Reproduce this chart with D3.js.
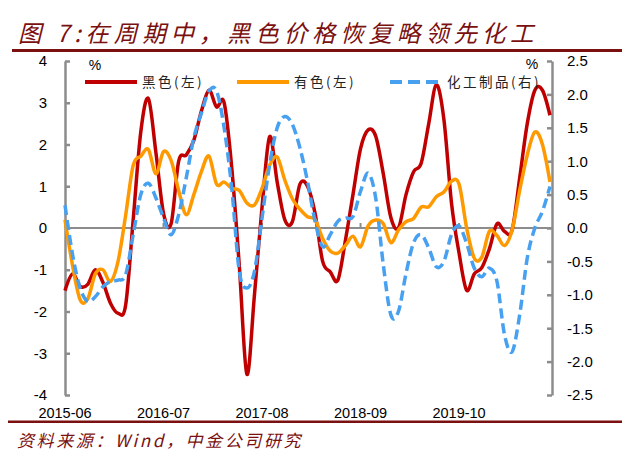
<!DOCTYPE html>
<html><head><meta charset="utf-8">
<script src="https://cdn.jsdelivr.net/npm/d3@7/dist/d3.min.js"></script>
<style>
html,body{margin:0;padding:0;background:#fff;}
svg{display:block;}
</style></head>
<body>
<svg id="c" width="636" height="456"></svg>
<script>
// ---------- data ----------
const startMonth = "2015-06";
const tickLabels = ["2015-06","2016-07","2017-08","2018-09","2019-10"];
const seriesNames = ["黑色(左)","有色(左)","化工制品(右)"];
const black = [-1.5,-1.1,-1.4,-1.35,-1.0,-1.3,-1.8,-2.04,-1.85,0.2,2.3,3.1,1.8,0.35,0.1,1.6,1.75,2.1,2.8,3.3,2.9,3.0,1.45,-0.9,-3.5,-1.6,0.5,2.19,1.1,0.2,0.15,1.05,1.0,0.35,-0.8,-1.05,-1.25,-0.3,0.8,1.9,2.35,2.2,1.3,0.25,0.0,0.8,1.35,1.55,2.5,3.43,2.6,0.6,-0.6,-1.49,-1.1,-0.95,-0.5,0.1,-0.08,-0.05,1.2,2.5,3.3,3.3,2.7];
const nonferrous = [0.2,-0.9,-1.72,-1.7,-1.1,-1.0,-1.28,-0.8,0.3,1.5,1.72,1.88,1.3,1.83,1.62,0.9,0.32,0.8,1.35,1.72,1.05,1.1,0.95,0.9,0.6,0.55,0.95,1.5,1.7,1.15,0.7,0.45,0.27,0.2,-0.25,-0.55,-0.6,-0.42,-0.2,-0.45,0.05,0.19,0.1,-0.35,-0.05,0.15,0.23,0.5,0.51,0.75,0.86,1.12,1.05,0.0,-0.72,-0.7,-0.08,-0.18,-0.42,-0.05,0.9,1.75,2.3,2.0,1.1];
const chemicals = [0.34,-0.4,-0.9,-1.1,-1.03,-0.88,-0.8,-0.78,-0.7,-0.1,0.5,0.67,0.45,0.15,-0.1,0.2,0.75,1.35,1.72,2.05,2.05,1.5,0.6,-0.65,-0.9,-0.65,0.15,0.95,1.5,1.67,1.55,1.2,0.7,0.1,-0.28,-0.1,0.1,0.15,0.17,0.55,0.82,0.45,-0.55,-1.3,-1.25,-0.68,-0.22,-0.1,-0.3,-0.58,-0.5,-0.1,0.03,-0.23,-0.6,-0.73,-0.6,-0.8,-1.6,-1.85,-1.3,-0.45,0.0,0.25,0.62];
const leftTicks = [4,3,2,1,0,-1,-2,-3,-4];
const rightTicks = [2.5,2.0,1.5,1.0,0.5,0.0,-0.5,-1.0,-1.5,-2.0,-2.5];

// categories (months)
const months = d3.timeMonth.range(new Date(2015,5,1), new Date(2015,5+black.length,1)).map(d3.timeFormat("%Y-%m"));

// ---------- layout ----------
const svg = d3.select("#c");
const X0 = 65, X1 = 550, AX_R = 552, Y_TOP = 61, Y_BOT = 395;
const x = d3.scalePoint().domain(months).range([X0, X1]);
const yL = d3.scaleLinear().domain([-4,4]).range([Y_BOT, Y_TOP]);
const yR = d3.scaleLinear().domain([-2.5,2.5]).range([Y_BOT, Y_TOP]);
const darkRed = "#7a1010";
const axisGray = "#8c8c8c";

// title
svg.append("text").attr("x",18).attr("y",42)
  .attr("font-family","'Noto Sans CJK SC', sans-serif").attr("font-style","italic")
  .attr("font-size",23.5).attr("letter-spacing",4.8).attr("fill",darkRed)
  .text("图 7:在周期中，黑色价格恢复略领先化工");
svg.append("rect").attr("x",12).attr("y",49).attr("width",610).attr("height",3).attr("fill",darkRed);
svg.append("rect").attr("x",8).attr("y",420.5).attr("width",614).attr("height",2.5).attr("fill",darkRed);
svg.append("text").attr("x",17).attr("y",447)
  .attr("font-family","'Noto Sans CJK SC', sans-serif").attr("font-style","italic")
  .attr("font-size",17).attr("letter-spacing",2.6).attr("fill",darkRed)
  .text("资料来源：Wind，中金公司研究");

// zero line
svg.append("line").attr("x1",X0).attr("x2",AX_R).attr("y1",yL(0)).attr("y2",yL(0))
  .attr("stroke",axisGray).attr("stroke-width",2);

// x tick marks on zero line & labels
const xtickG = svg.append("g");
tickLabels.forEach(t=>{
  xtickG.append("line").attr("x1",x(t)).attr("x2",x(t)).attr("y1",yL(0)).attr("y2",yL(0)-5)
    .attr("stroke",axisGray).attr("stroke-width",2);
  xtickG.append("text").attr("x",x(t)).attr("y",418).attr("text-anchor","middle")
    .attr("font-family","Arial, 'Liberation Sans', sans-serif").attr("font-size",14.5).attr("fill","#000")
    .text(t);
});

// left axis
const gl = svg.append("g").attr("transform",`translate(${X0},0)`)
  .call(d3.axisRight(yL).tickValues(leftTicks).tickSize(5).tickSizeOuter(0));
gl.select(".domain").attr("stroke",axisGray).attr("stroke-width",2.5);
gl.selectAll(".tick line").attr("stroke",axisGray).attr("stroke-width",2.5);
gl.selectAll(".tick text").attr("x",-18).attr("text-anchor","end").attr("font-size",15)
  .attr("font-family","Arial, 'Liberation Sans', sans-serif").attr("fill","#000").text(d=>d3.format("d")(d).replace("−","-"));

// right axis
const gr = svg.append("g").attr("transform",`translate(${AX_R},0)`)
  .call(d3.axisLeft(yR).tickValues(rightTicks).tickSize(5).tickSizeOuter(0));
gr.select(".domain").attr("stroke",axisGray).attr("stroke-width",2.5);
gr.selectAll(".tick line").attr("stroke",axisGray).attr("stroke-width",2.5);
gr.selectAll(".tick text").attr("x",15).attr("text-anchor","start").attr("font-size",15)
  .attr("font-family","Arial, 'Liberation Sans', sans-serif").attr("fill","#000").text(d=>d3.format(".1f")(d).replace("−","-"));

// % labels
svg.append("text").attr("x",95).attr("y",70).attr("text-anchor","middle").attr("font-size",14)
  .attr("font-family","Arial, 'Liberation Sans', sans-serif").text("%");
svg.append("text").attr("x",532).attr("y",69).attr("text-anchor","middle").attr("font-size",14)
  .attr("font-family","Arial, 'Liberation Sans', sans-serif").text("%");

// lines
const curve = d3.curveCardinal.tension(0);
const lineL = d3.line().x((d,i)=>x(months[i])).y(d=>yL(d)).curve(curve);
const lineR = d3.line().x((d,i)=>x(months[i])).y(d=>yR(d)).curve(curve);
const colors = ["#c00000","#ff9900","#47a0f0"];
svg.append("path").attr("d",lineL(black)).attr("fill","none").attr("stroke",colors[0]).attr("stroke-width",3.5).attr("stroke-linejoin","round");
svg.append("path").attr("d",lineL(nonferrous)).attr("fill","none").attr("stroke",colors[1]).attr("stroke-width",3.5).attr("stroke-linejoin","round");
svg.append("path").attr("d",lineR(chemicals)).attr("fill","none").attr("stroke",colors[2]).attr("stroke-width",3.5).attr("stroke-dasharray","10,5");

// legend
const legend = [
  {name:seriesNames[0], x:85, color:colors[0], dash:null},
  {name:seriesNames[1], x:237, color:colors[1], dash:null},
  {name:seriesNames[2], x:390, color:colors[2], dash:"12,6"}
];
legend.forEach(l=>{
  svg.append("line").attr("x1",l.x).attr("x2",l.x+52).attr("y1",82).attr("y2",82)
    .attr("stroke",l.color).attr("stroke-width",4).attr("stroke-dasharray",l.dash);
  svg.append("text").attr("x",l.x+57).attr("y",87).attr("font-size",13.5).attr("letter-spacing",2.5)
    .attr("font-family","'Noto Sans CJK SC', sans-serif").attr("fill","#222").text(l.name);
});
</script>
</body></html>
